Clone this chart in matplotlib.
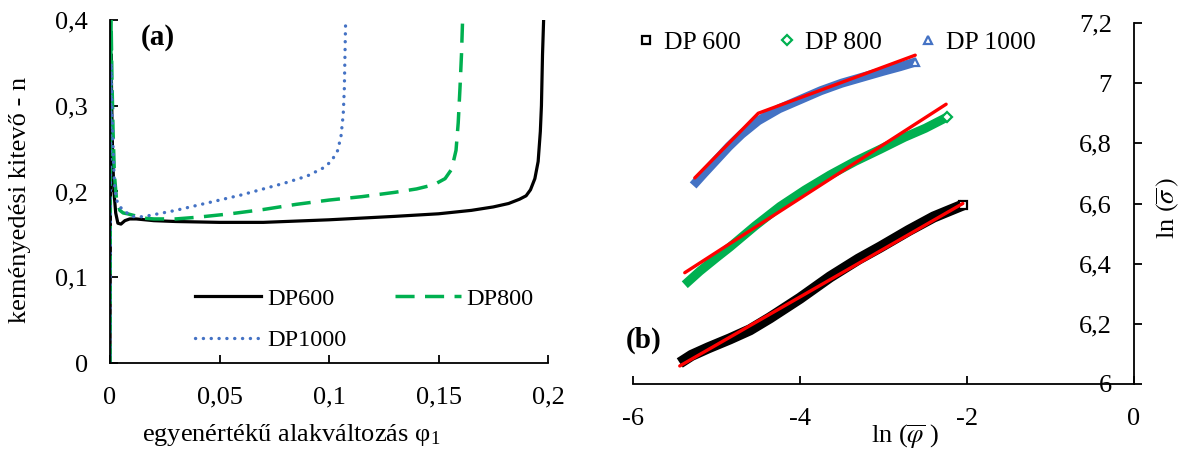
import matplotlib
matplotlib.use("Agg")
import matplotlib.pyplot as plt
from matplotlib.lines import Line2D
from matplotlib.ticker import FuncFormatter, MultipleLocator

plt.rcParams['font.family'] = ['Liberation Serif', 'DejaVu Serif']
plt.rcParams['mathtext.fontset'] = 'stix'

# (a) hardening exponent n vs. equivalent strain
dp600_strain = [0, 0.0002, 0.0005, 0.0008, 0.0012, 0.0018, 0.0026, 0.0036, 0.005, 0.0068,
                0.009, 0.012, 0.02, 0.03, 0.05, 0.07, 0.1, 0.13, 0.15, 0.165, 0.175, 0.182,
                0.187, 0.19, 0.192, 0.194, 0.1955, 0.1965, 0.197, 0.1975, 0.198]
dp600_n = [0, 0.2, 0.36, 0.30, 0.24, 0.20, 0.175, 0.163, 0.162, 0.166,
           0.168, 0.168, 0.166, 0.165, 0.164, 0.164, 0.167, 0.171, 0.174, 0.178, 0.182, 0.186,
           0.191, 0.195, 0.202, 0.215, 0.235, 0.27, 0.30, 0.36, 0.4]

dp800_strain = [0, 0.0002, 0.0005, 0.0009, 0.0014, 0.002, 0.003, 0.0045, 0.006, 0.008, 0.011,
                0.015, 0.02, 0.03, 0.04, 0.055, 0.07, 0.085, 0.1, 0.115, 0.13, 0.14, 0.148,
                0.153, 0.156, 0.158, 0.159, 0.1598, 0.1605, 0.161]
dp800_n = [0, 0.25, 0.40, 0.33, 0.27, 0.22, 0.19, 0.178, 0.175, 0.174, 0.172,
           0.169, 0.168, 0.168, 0.170, 0.174, 0.179, 0.185, 0.19, 0.194, 0.199, 0.203, 0.208,
           0.215, 0.226, 0.248, 0.28, 0.32, 0.36, 0.4]

dp1000_strain = [0, 0.0002, 0.0005, 0.0009, 0.0014, 0.002, 0.003, 0.0045, 0.0065, 0.009, 0.012,
                 0.016, 0.02, 0.03, 0.04, 0.05, 0.06, 0.07, 0.08, 0.09, 0.097, 0.101, 0.104,
                 0.1055, 0.1065, 0.107, 0.1073, 0.1076]
dp1000_n = [0, 0.2, 0.35, 0.30, 0.25, 0.21, 0.19, 0.182, 0.178, 0.172, 0.170,
            0.171, 0.173, 0.178, 0.184, 0.19, 0.196, 0.203, 0.21, 0.218, 0.227, 0.235, 0.248,
            0.265, 0.29, 0.32, 0.36, 0.4]

# (b) ln(true stress) vs. ln(true strain), with linear fits
dp600_ln_eps = [-5.44, -5.3, -5.1, -4.84, -4.6, -4.36, -4.0, -3.64, -3.3, -3.04, -2.7, -2.4, -2.05]
dp600_ln_sig = [6.07, 6.095, 6.12, 6.15, 6.18, 6.22, 6.285, 6.356, 6.415, 6.455, 6.51, 6.555, 6.595]
dp600_fit_x = [-5.44, -2.05]
dp600_fit_y = [6.06, 6.60]

dp800_ln_eps = [-5.38, -5.2, -5.0, -4.84, -4.54, -4.24, -3.94, -3.64, -3.34, -3.04, -2.75, -2.5, -2.24]
dp800_ln_sig = [6.33, 6.375, 6.42, 6.455, 6.525, 6.59, 6.645, 6.695, 6.74, 6.78, 6.82, 6.85, 6.887]
dp800_fit_x = [-5.38, -2.25]
dp800_fit_y = [6.37, 6.93]

dp1000_ln_eps = [-5.28, -5.15, -5.0, -4.85, -4.7, -4.5, -4.25, -4.0, -3.75, -3.5, -3.25, -3.0,
                 -2.8, -2.62]
dp1000_ln_sig = [6.66, 6.70, 6.745, 6.79, 6.83, 6.875, 6.915, 6.945, 6.975, 7.0, 7.02, 7.04,
                 7.055, 7.07]
dp1000_fit_x = [-5.26, -4.5, -2.62]
dp1000_fit_y = [6.685, 6.90, 7.093]

legend_a = ['DP600', 'DP800', 'DP1000']
legend_b = ['DP 600', 'DP 800', 'DP 1000']

BLACK = '#000000'
GREEN = '#00B050'
BLUE = '#4472C4'
RED = '#FF0000'


def comma(v, pos):
    return f'{v:g}'.replace('.', ',')


fig = plt.figure(figsize=(11.8, 4.5), dpi=100)

# ---------------- (a) ----------------
ax1 = fig.add_axes([110 / 1180, 1 - 363 / 450, 438 / 1180, 343 / 450])
l600, = ax1.plot(dp600_strain, dp600_n, color=BLACK, lw=2.3)
l800, = ax1.plot(dp800_strain, dp800_n, color=GREEN, lw=2.5, ls=(0, (5.5, 3)))
l1000, = ax1.plot(dp1000_strain, dp1000_n, color=BLUE, lw=2.4, ls=(0, (0.05, 2.3)),
                  dash_capstyle='round')
ax1.set_xlim(0, 0.2)
ax1.set_ylim(0, 0.4)
ax1.xaxis.set_major_locator(MultipleLocator(0.05))
ax1.yaxis.set_major_locator(MultipleLocator(0.1))
ax1.xaxis.set_major_formatter(FuncFormatter(comma))
ax1.yaxis.set_major_formatter(FuncFormatter(comma))
ax1.tick_params(direction='in', length=6, width=1.3, labelsize=19)
ax1.tick_params(axis='x', pad=17)
ax1.tick_params(axis='y', pad=16)
for s in ['top', 'right']:
    ax1.spines[s].set_visible(False)
for s in ['left', 'bottom']:
    ax1.spines[s].set_linewidth(1.3)
ax1.set_xlabel('egyenértékű alakváltozás φ$_\\mathregular{1}$', fontsize=19, va='center')
ax1.xaxis.set_label_coords(0.413, -0.21)
ax1.set_ylabel('keményedési kitevő - n', fontsize=19, va='center')
ax1.yaxis.set_label_coords(-0.205, 0.475)
ax1.text(0.07, 0.95, '(a)', transform=ax1.transAxes, fontsize=21, fontweight='bold',
         ha='left', va='center')
# column-wise fill: DP600 / DP800 on the first row, DP1000 below
ax1.legend([l600, l1000, l800], [legend_a[0], legend_a[2], legend_a[1]],
           loc='upper left', bbox_to_anchor=(0.195, 0.22), ncol=2, frameon=False,
           fontsize=17.5, handlelength=2.7, handletextpad=0.25, columnspacing=2.0,
           labelspacing=0.8, borderpad=0, borderaxespad=0)

# ---------------- (b) ----------------
ax2 = fig.add_axes([633 / 1180, 1 - 384 / 450, 501 / 1180, 361 / 450])
curve_kw = dict(solid_capstyle='butt', solid_joinstyle='round')
ax2.plot(dp600_ln_eps, dp600_ln_sig, color=BLACK, lw=8, **curve_kw)
ax2.plot(dp800_ln_eps, dp800_ln_sig, color=GREEN, lw=6.5, **curve_kw)
ax2.plot(dp1000_ln_eps, dp1000_ln_sig, color=BLUE, lw=6.5, **curve_kw)
ax2.plot(dp600_ln_eps[-1], dp600_ln_sig[-1], marker='s', ms=6, mfc='white', mec=BLACK, mew=1.6)
ax2.plot(dp800_ln_eps[-1], dp800_ln_sig[-1], marker='D', ms=5, mfc='white', mec=GREEN, mew=1.6)
ax2.plot(dp1000_ln_eps[-1], dp1000_ln_sig[-1], marker='^', ms=6, mfc='white', mec=BLUE, mew=1.6)
fit_kw = dict(color=RED, lw=2.4, solid_capstyle='round', solid_joinstyle='round')
ax2.plot(dp600_fit_x, dp600_fit_y, **fit_kw)
ax2.plot(dp800_fit_x, dp800_fit_y, **fit_kw)
ax2.plot(dp1000_fit_x, dp1000_fit_y, **fit_kw)
ax2.set_xlim(-6, 0)
ax2.set_ylim(6, 7.2)
ax2.xaxis.set_major_locator(MultipleLocator(2))
ax2.yaxis.set_major_locator(MultipleLocator(0.2))
ax2.xaxis.set_major_formatter(FuncFormatter(comma))
ax2.yaxis.set_major_formatter(FuncFormatter(comma))
ax2.spines['left'].set_position(('data', 0))
for s in ['top', 'right']:
    ax2.spines[s].set_visible(False)
for s in ['left', 'bottom']:
    ax2.spines[s].set_linewidth(1.3)
ax2.tick_params(direction='in', length=6, width=1.3, labelsize=19)
ax2.tick_params(axis='x', pad=17)
ax2.tick_params(axis='y', pad=16)
ax2.set_xlabel(r'ln ($\overline{\varphi}$ )', fontsize=19, va='center')
ax2.xaxis.set_label_coords(0.543, -0.147)
ax2.set_ylabel(r'ln $(\overline{\sigma}\,)$', fontsize=19, va='center')
ax2.yaxis.set_label_coords(1.068, 0.4875)
ax2.text(-0.015, 0.12, '(b)', transform=ax2.transAxes, fontsize=21, fontweight='bold',
         ha='left', va='center')

handles = [
    Line2D([], [], ls='none', marker='s', ms=6, mfc='white', mec=BLACK, mew=1.6),
    Line2D([], [], ls='none', marker='D', ms=5, mfc='white', mec=GREEN, mew=1.6),
    Line2D([], [], ls='none', marker='^', ms=6, mfc='white', mec=BLUE, mew=1.6),
]
ax2.legend(handles, legend_b, loc='center left', bbox_to_anchor=(0.0, 0.945), ncol=3,
           frameon=False, fontsize=18.5, handlelength=1.0, handletextpad=0.2,
           columnspacing=1.3, borderpad=0, borderaxespad=0)

fig.savefig('out.png', dpi=100)
